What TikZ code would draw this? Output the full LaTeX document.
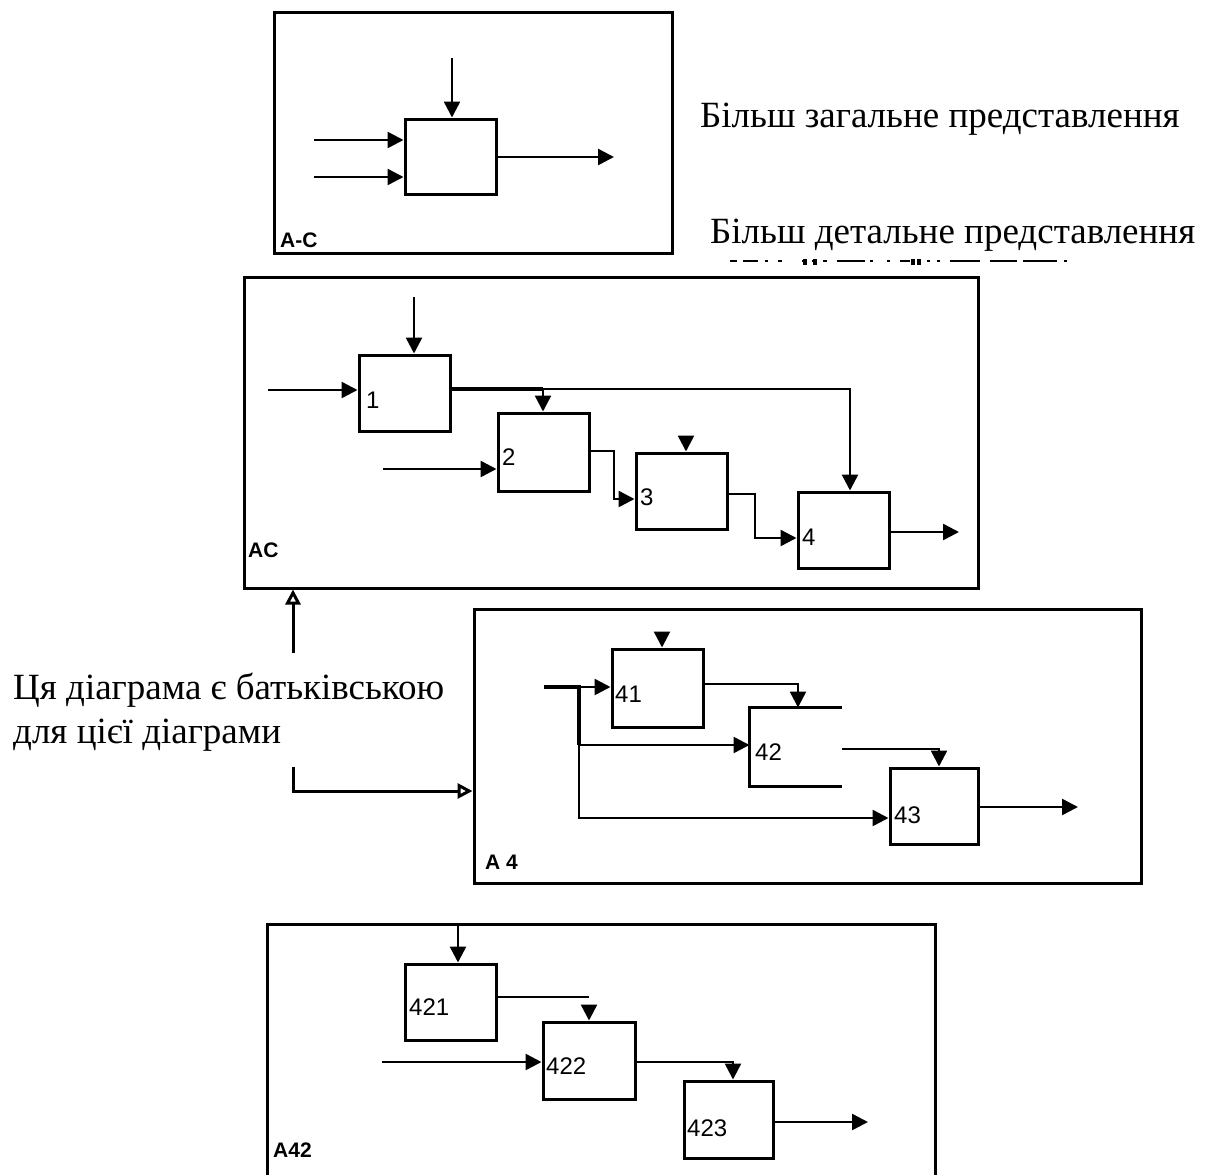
\documentclass[tikz,border=0pt]{standalone}
\usepackage{fontspec}
\setmainfont{Liberation Serif}
\newfontfamily\pixfont{Liberation Sans}
\usetikzlibrary{arrows.meta,positioning,calc}
\tikzset{
 diagram/.style={draw, line width=3pt, inner sep=0pt},
 funcbox/.style={draw, line width=3pt, inner sep=0pt, minimum width=91pt, minimum height=76pt},
 connector/.style={line width=2.5pt},
 arrow/.style={connector, -{Triangle[length=16pt,width=16pt]}},
 openarrow/.style={line width=3pt, -{Triangle[open,length=15pt,width=15pt]}},
 num/.style={font=\pixfont\fontsize{24pt}{24pt}\selectfont, inner sep=0pt, anchor=west},
 framelabel/.style={font=\pixfont\bfseries\fontsize{21pt}{21pt}\selectfont, inner sep=0pt, anchor=west},
 remark/.style={font=\fontsize{37pt}{44pt}\selectfont, inner sep=0pt, anchor=base west}
}
\begin{document}
\begin{tikzpicture}[x=1pt,y=-1pt]
\useasboundingbox (0,0) rectangle (1205,1175);
\node[remark] (gen) at (700,127) {Більш загальне представлення};
\node[remark] (det) at (710,243) {Більш детальне представлення};
\coordinate (g0) at (730,261); \coordinate (g1) at (1067,261);
\draw[line width=2pt, dash pattern=on 7pt off 6pt on 15pt off 7pt on 3pt off 10pt on 4pt off 20pt on 3pt off 7pt on 3pt off 8pt on 4pt off 10pt on 28pt off 5pt on 3pt off 14pt on 3pt off 10pt on 10pt off 17pt on 3pt off 7pt on 3pt off 10pt on 30pt off 10pt on 27pt off 6pt on 34pt] (g0) -- (g1);
\foreach \gx in {803,813,911,917}{\fill (\gx,259) rectangle ++(4,6);}
\node[remark] (par1) at (13,699) {Ця діаграма є батьківською};
\node[remark] (par2) at (13,743) {для цієї діаграми};

\node[diagram, minimum width=398pt, minimum height=241pt] (fA0) at (473,132.5) {};
\node[funcbox, minimum height=75pt] (b0) at (450.5,156.5) {};
\node[framelabel] (t0) at (280,240) {A-C};
\coordinate (c0) at (452,58); \coordinate (i0a) at (314,140); \coordinate (i0b) at (314,177); \coordinate (o0) at (614,157);
\draw[arrow] (c0) -- (c0 |- b0.north);
\draw[arrow] (i0a) -- (i0a -| b0.west);\draw[arrow] (i0b) -- (i0b -| b0.west);
\draw[arrow] (o0 -| b0.east) -- (o0);

\node[diagram, minimum width=734pt, minimum height=311pt] (fAC) at (611,432.5) {};
\node[funcbox] (b1) at (404.5,393) {};
\node[funcbox, minimum height=78pt] (b2) at (543.5,452) {};
\node[funcbox] (b3) at (681.5,491) {};
\node[funcbox] (b4) at (843.5,530) {};
\node[num] (l1) at (366,400) {1};
\node[num] (l2) at (502,457) {2};
\node[num] (l3) at (640,497) {3};
\node[num] (l4) at (802,537) {4};
\node[framelabel] (tAC) at (248,550) {AC};
\coordinate (c1) at (414,297); \coordinate (i1) at (268,390); \coordinate (s1) at (543,389); \coordinate (t4) at (850,389);
\coordinate (i2) at (383,469); \coordinate (k2a) at (614,451); \coordinate (k2b) at (614,499);
\coordinate (h3) at (686,437); \coordinate (k3a) at (755,494); \coordinate (k3b) at (755,538); \coordinate (o4) at (959,532);
\draw[arrow] (c1) -- (c1 |- b1.north);
\draw[arrow] (i1) -- (i1 -| b1.west);
\draw[line width=4.5pt] (s1 -| b1.east) -- (s1);
\draw[arrow] (s1) -- (s1 |- b2.north);
\draw[arrow] (s1) -- (t4) -- (t4 |- b4.north);
\draw[arrow] (i2) -- (i2 -| b2.west);
\draw[arrow] (k2a -| b2.east) -- (k2a) -- (k2b) -- (k2b -| b3.west);
\draw[arrow] (h3) -- (h3 |- b3.north);
\draw[arrow] (k3a -| b3.east) -- (k3a) -- (k3b) -- (k3b -| b4.west);
\draw[arrow] (o4 -| b4.east) -- (o4);

\node[diagram, minimum width=667pt, minimum height=274pt] (fA4) at (807.5,746) {};
\node[funcbox, minimum height=78pt] (b41) at (657.5,688) {};
\node[funcbox, draw=none, minimum width=89pt] (b42) at (795.5,747) {};
\draw[line width=3pt] (b42.north east) -- (b42.north west) -- (b42.south west) -- (b42.south east);
\node[funcbox, minimum width=88pt] (b43) at (934,806) {};
\node[num] (l41) at (615,694) {41};
\node[num] (l42) at (755,752) {42};
\node[num] (l43) at (894,815) {43};
\node[framelabel] (tA4) at (485,862) {A 4};
\coordinate (h41) at (662,633); \coordinate (i41) at (544,687); \coordinate (s41) at (579,687);
\coordinate (s42) at (579,745); \coordinate (s43) at (579,818); \coordinate (k41) at (798,684);
\coordinate (k42a) at (842,749); \coordinate (k42b) at (939,749); \coordinate (o43) at (1078,807);
\draw[arrow] (h41) -- (h41 |- b41.north);
\draw[line width=4.5pt] (i41) -- (s41) -- (s42);
\draw[arrow] (s41) -- (s41 -| b41.west);
\draw[arrow] (s42) -- (s42 -| b42.west);
\draw[arrow] (s42) -- (s43) -- (s43 -| b43.west);
\draw[arrow] (k41 -| b41.east) -- (k41) -- (k41 |- b42.north);
\draw[arrow] (k42a) -- (k42b) -- (k42b |- b43.north);
\draw[arrow] (o43 -| b43.east) -- (o43);

\coordinate (p1) at (293,653); \coordinate (p2) at (293,767); \coordinate (p3) at (293,791);
\draw[openarrow] (p1) -- (p1 |- fAC.south);
\draw[openarrow] (p2) -- (p3) -- (p3 -| fA4.west);

\coordinate (fA42sw) at (267,1190); \coordinate (fA42nw) at (267,924); \coordinate (fA42ne) at (935,924); \coordinate (fA42se) at (935,1190);
\draw[line width=3pt] (fA42sw) -- (fA42nw) -- (fA42ne) -- (fA42se);
\node[funcbox] (b421) at (450.5,1002) {};
\node[funcbox, minimum width=92pt, minimum height=77pt] (b422) at (589,1060.5) {};
\node[funcbox, minimum width=89pt, minimum height=77pt] (b423) at (728.5,1119.5) {};
\node[num] (l421) at (409,1007) {421};
\node[num] (l422) at (546,1066) {422};
\node[num] (l423) at (687,1128) {423};
\node[framelabel] (tA42) at (273,1150) {A42};
\coordinate (c421) at (458,924); \coordinate (k421) at (589,997); \coordinate (h422) at (589,1005);
\coordinate (i422) at (382,1062); \coordinate (k422) at (733,1062); \coordinate (o423) at (868,1122);
\draw[arrow] (c421) -- (c421 |- b421.north);
\draw[connector] (k421 -| b421.east) -- (k421);
\draw[arrow] (h422) -- (h422 |- b422.north);
\draw[arrow] (i422) -- (i422 -| b422.west);
\draw[arrow] (k422 -| b422.east) -- (k422) -- (k422 |- b423.north);
\draw[arrow] (o423 -| b423.east) -- (o423);
\end{tikzpicture}
\end{document}
